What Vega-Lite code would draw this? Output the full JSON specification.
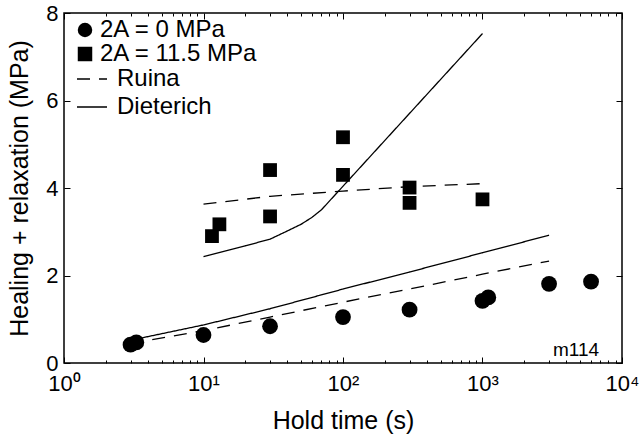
{
  "$schema": "https://vega.github.io/schema/vega-lite/v6.json",
  "width": 558,
  "height": 350,
  "autosize": {"type": "none"},
  "padding": {"left": 64, "top": 13, "right": 20, "bottom": 81},
  "background": "white",
  "config": {
    "font": "Liberation Sans",
    "view": {"stroke": "black", "strokeWidth": 1.5},
    "axis": {"grid": false, "domain": false, "tickColor": "black", "tickWidth": 1, "labelColor": "black", "titleColor": "black", "labelFont": "Liberation Sans", "titleFont": "Liberation Sans", "titleFontWeight": "normal"},
    "legend": {"labelFont": "Liberation Sans", "labelColor": "black"}
  },
  "datasets": {
    "pts": [
      {"t": 3, "v": 0.42, "series": "2A = 0 MPa"},
      {"t": 3.3, "v": 0.47, "series": "2A = 0 MPa"},
      {"t": 10, "v": 0.64, "series": "2A = 0 MPa"},
      {"t": 30, "v": 0.84, "series": "2A = 0 MPa"},
      {"t": 100, "v": 1.05, "series": "2A = 0 MPa"},
      {"t": 300, "v": 1.22, "series": "2A = 0 MPa"},
      {"t": 1000, "v": 1.42, "series": "2A = 0 MPa"},
      {"t": 1100, "v": 1.5, "series": "2A = 0 MPa"},
      {"t": 3000, "v": 1.81, "series": "2A = 0 MPa"},
      {"t": 6000, "v": 1.86, "series": "2A = 0 MPa"}
    ],
    "sq": [
      {"t": 11.5, "v": 2.9, "series": "2A = 11.5 MPa"},
      {"t": 13, "v": 3.17, "series": "2A = 11.5 MPa"},
      {"t": 30, "v": 4.41, "series": "2A = 11.5 MPa"},
      {"t": 30, "v": 3.35, "series": "2A = 11.5 MPa"},
      {"t": 100, "v": 5.16, "series": "2A = 11.5 MPa"},
      {"t": 100, "v": 4.3, "series": "2A = 11.5 MPa"},
      {"t": 300, "v": 4.01, "series": "2A = 11.5 MPa"},
      {"t": 300, "v": 3.66, "series": "2A = 11.5 MPa"},
      {"t": 1000, "v": 3.74, "series": "2A = 11.5 MPa"}
    ],
    "lines": [
      {"t": 3, "v": 0.45, "model": "Ruina", "curve": "r0"},
      {"t": 10, "v": 0.74, "model": "Ruina", "curve": "r0"},
      {"t": 30, "v": 1.05, "model": "Ruina", "curve": "r0"},
      {"t": 100, "v": 1.39, "model": "Ruina", "curve": "r0"},
      {"t": 300, "v": 1.69, "model": "Ruina", "curve": "r0"},
      {"t": 1000, "v": 2.03, "model": "Ruina", "curve": "r0"},
      {"t": 3000, "v": 2.33, "model": "Ruina", "curve": "r0"},
      {"t": 3, "v": 0.52, "model": "Dieterich", "curve": "d0"},
      {"t": 10, "v": 0.87, "model": "Dieterich", "curve": "d0"},
      {"t": 30, "v": 1.24, "model": "Dieterich", "curve": "d0"},
      {"t": 100, "v": 1.69, "model": "Dieterich", "curve": "d0"},
      {"t": 300, "v": 2.08, "model": "Dieterich", "curve": "d0"},
      {"t": 1000, "v": 2.52, "model": "Dieterich", "curve": "d0"},
      {"t": 3000, "v": 2.92, "model": "Dieterich", "curve": "d0"},
      {"t": 10, "v": 3.63, "model": "Ruina", "curve": "r1"},
      {"t": 30, "v": 3.81, "model": "Ruina", "curve": "r1"},
      {"t": 100, "v": 3.93, "model": "Ruina", "curve": "r1"},
      {"t": 300, "v": 4.03, "model": "Ruina", "curve": "r1"},
      {"t": 1000, "v": 4.1, "model": "Ruina", "curve": "r1"},
      {"t": 10, "v": 2.43, "model": "Dieterich", "curve": "d1"},
      {"t": 20, "v": 2.68, "model": "Dieterich", "curve": "d1"},
      {"t": 30, "v": 2.83, "model": "Dieterich", "curve": "d1"},
      {"t": 40, "v": 3.02, "model": "Dieterich", "curve": "d1"},
      {"t": 50, "v": 3.17, "model": "Dieterich", "curve": "d1"},
      {"t": 60, "v": 3.33, "model": "Dieterich", "curve": "d1"},
      {"t": 70, "v": 3.5, "model": "Dieterich", "curve": "d1"},
      {"t": 1000, "v": 7.53, "model": "Dieterich", "curve": "d1"}
    ],
    "note": [
      {"t": 3200, "v": 0.15, "label": "m114"}
    ]
  },
  "layer": [
    {
      "data": {"name": "pts"},
      "mark": {"type": "point", "filled": true, "color": "black", "opacity": 1, "size": 250},
      "encoding": {
        "x": {"field": "t", "type": "quantitative",
          "scale": {"type": "log", "domain": [1, 10000], "nice": false},
          "axis": {"orient": "bottom", "values": [1, 10, 100, 1000, 10000], "tickSize": -6,
            "labelPadding": 16, "labelFontSize": 22, "labelExpr": "'10' + (datum.value == 1 ? '⁰' : datum.value == 10 ? '¹' : datum.value == 100 ? '²' : datum.value == 1000 ? '³' : '⁴')",
            "labelFlush": false, "labelOverlap": false,
            "title": "Hold time (s)", "titleFontSize": 25, "titlePadding": 14}},
        "y": {"field": "v", "type": "quantitative",
          "scale": {"domain": [0, 8], "nice": false},
          "axis": {"orient": "left", "values": [0, 2, 4, 6, 8], "tickSize": -6, "labelPadding": 12,
            "labelFontSize": 22, "title": "Healing + relaxation (MPa)", "titleFontSize": 25, "titlePadding": 13}},
        "shape": {"field": "series", "type": "nominal",
          "scale": {"domain": ["2A = 0 MPa", "2A = 11.5 MPa"], "range": ["circle", "square"]},
          "legend": {"title": null, "orient": "none", "legendX": 9, "legendY": 5, "symbolSize": 210,
            "symbolFillColor": "black", "symbolStrokeWidth": 0, "labelFontSize": 24, "labelOffset": 3,
            "rowPadding": -4, "padding": 0}}
      }
    },
    {
      "data": {"name": "sq"},
      "mark": {"type": "point", "filled": true, "color": "black", "opacity": 1, "size": 190},
      "encoding": {
        "x": {"field": "t", "type": "quantitative",
          "axis": {"orient": "bottom", "values": [2, 3, 4, 5, 6, 7, 8, 9, 20, 30, 40, 50, 60, 70, 80, 90, 200, 300, 400, 500, 600, 700, 800, 900, 2000, 3000, 4000, 5000, 6000, 7000, 8000, 9000],
            "tickSize": -3, "labels": false, "title": null}},
        "y": {"field": "v", "type": "quantitative",
          "axis": {"orient": "right", "values": [0, 2, 4, 6, 8], "tickSize": -6, "labels": false, "title": null}},
        "shape": {"field": "series", "type": "nominal"}
      }
    },
    {
      "data": {"name": "lines"},
      "mark": {"type": "line", "color": "black", "strokeWidth": 1.3},
      "encoding": {
        "x": {"field": "t", "type": "quantitative",
          "axis": {"orient": "top", "values": [1, 10, 100, 1000, 10000], "tickSize": -6, "labels": false, "title": null}},
        "y": {"field": "v", "type": "quantitative", "axis": null},
        "detail": {"field": "curve", "type": "nominal"},
        "strokeDash": {"field": "model", "type": "nominal",
          "scale": {"domain": ["Ruina", "Dieterich"], "range": [[13, 9], [1, 0]]},
          "legend": {"title": null, "orient": "none", "legendX": 12, "legendY": 50, "symbolType": "stroke",
            "symbolSize": 900, "symbolStrokeWidth": 1.3, "symbolStrokeColor": "black",
            "labelFontSize": 24, "labelOffset": 9, "rowPadding": -2, "padding": 0,
            "encode": {"symbols": {"update": {"strokeDash": {"signal": "datum.value === 'Ruina' ? [18, 6] : [1, 0]"}}}}}}
      }
    },
    {
      "data": {"name": "note"},
      "mark": {"type": "text", "color": "black", "fontSize": 19, "align": "left", "baseline": "alphabetic"},
      "encoding": {
        "x": {"field": "t", "type": "quantitative",
          "axis": {"orient": "top", "values": [2, 3, 4, 5, 6, 7, 8, 9, 20, 30, 40, 50, 60, 70, 80, 90, 200, 300, 400, 500, 600, 700, 800, 900, 2000, 3000, 4000, 5000, 6000, 7000, 8000, 9000],
            "tickSize": -3, "labels": false, "title": null}},
        "y": {"field": "v", "type": "quantitative", "axis": null},
        "text": {"field": "label"}
      }
    }
  ],
  "resolve": {"axis": {"x": "independent", "y": "independent"}}
}
